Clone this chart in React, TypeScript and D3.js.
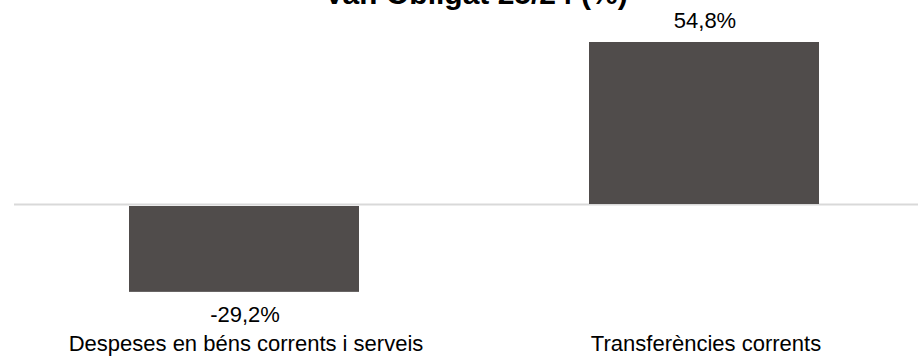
import { scaleBand, scaleLinear } from "d3";

const categories = ["Despeses en béns corrents i serveis", "Transferències corrents"];
const values = [-29.2, 54.8];
const valueLabels = ["-29,2%", "54,8%"];
const title = "Var. Obligat 25/24 (%)";

const width = 918;
const height = 357;
const barColor = "#504c4b";
const font = "'Liberation Sans', Arial, sans-serif";

export default function App() {
  const x = scaleBand<string>()
    .domain(categories)
    .range([14, 934])
    .paddingInner(0.5)
    .paddingOuter(0.25);
  const y = scaleLinear().domain([0, 54.8]).range([205, 42]);

  return (
    <svg
      width={width}
      height={height}
      style={{ position: "absolute", left: 0, top: 0, background: "#fff" }}
      fontFamily={font}
    >
      <text x={476} y={4} textAnchor="middle" fontSize={30} fontWeight="bold" fill="#000">
        {title}
      </text>
      <line x1={14} x2={width} y1={y(0) - 0.5} y2={y(0) - 0.5} stroke="#d9d9d9" strokeWidth={2} />
      {categories.map((cat, i) => {
        const v = values[i];
        const bx = x(cat) ?? 0;
        const cx = bx + x.bandwidth() / 2;
        const top = v >= 0 ? y(v) : y(0) + 1;
        const bottom = v >= 0 ? y(0) - 1 : y(v);
        return (
          <g key={cat}>
            <rect x={bx} y={top} width={x.bandwidth()} height={bottom - top} fill={barColor} />
            <text
              x={cx + 1}
              y={v >= 0 ? y(v) - 14 : y(v) + 30}
              textAnchor="middle"
              fontSize={22}
              fill="#000"
            >
              {valueLabels[i]}
            </text>
            <text x={cx + 2} y={351} textAnchor="middle" fontSize={22} fill="#000">
              {cat}
            </text>
          </g>
        );
      })}
    </svg>
  );
}
